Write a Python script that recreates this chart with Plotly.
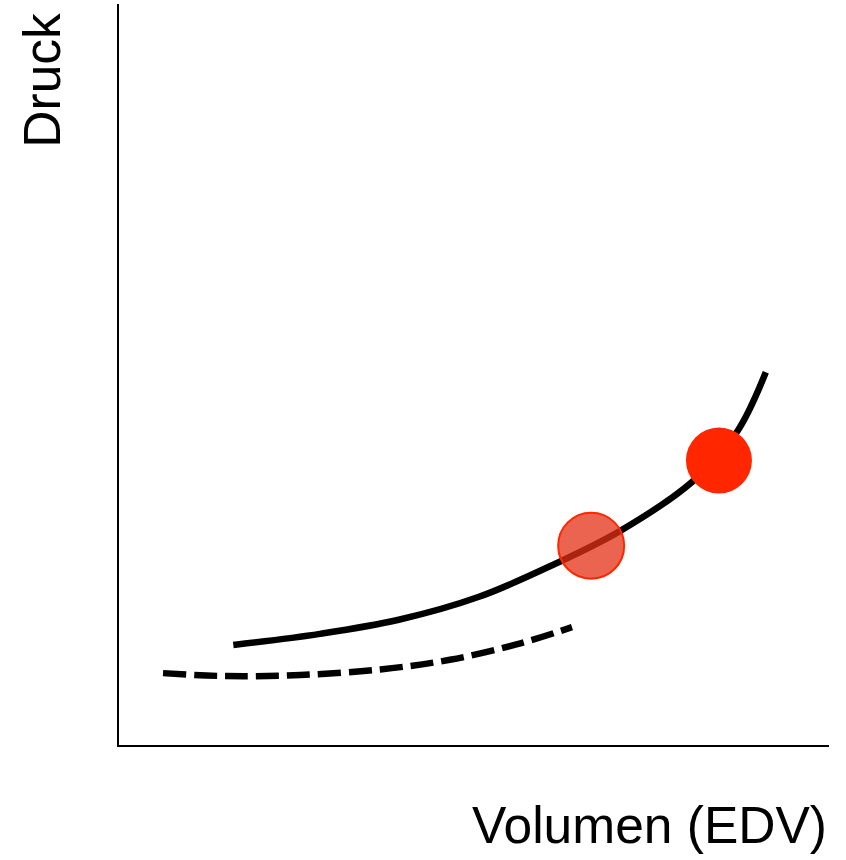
import plotly.graph_objects as go

# Data (arbitrary units: volume on x, pressure on y)
solid_volume = [16.1, 28.3, 39.4, 50.7, 61.1, 70.6, 80.7, 87.0, 91.1]
solid_pressure = [13.5, 15.0, 16.9, 20.0, 24.3, 28.9, 35.5, 42.2, 50.3]

dashed_volume = [6.2, 15.1, 25.5, 36.8, 46.6, 56.1, 63.8]
dashed_pressure = [9.7, 9.3, 9.45, 10.2, 11.5, 13.6, 15.9]

point_faded_volume = [66.5]
point_faded_pressure = [26.9]
point_solid_volume = [84.5]
point_solid_pressure = [38.4]

x_title = "Volumen (EDV)"
y_title = "Druck"

fig = go.Figure()

fig.add_trace(go.Scatter(
    x=dashed_volume, y=dashed_pressure, mode="lines",
    line=dict(color="black", width=6.5, dash="23px,8px", shape="spline", smoothing=1.0),
    hoverinfo="skip", showlegend=False))

fig.add_trace(go.Scatter(
    x=solid_volume, y=solid_pressure, mode="lines",
    line=dict(color="black", width=6.5, shape="spline", smoothing=1.0),
    hoverinfo="skip", showlegend=False))

fig.add_trace(go.Scatter(
    x=point_faded_volume, y=point_faded_pressure, mode="markers",
    marker=dict(size=66, color="rgba(228,48,20,0.75)",
                line=dict(color="rgb(255,38,0)", width=2)),
    showlegend=False))

fig.add_trace(go.Scatter(
    x=point_solid_volume, y=point_solid_pressure, mode="markers",
    marker=dict(size=66, color="rgb(255,38,0)", line=dict(width=0)),
    showlegend=False))

axis_common = dict(showgrid=False, zeroline=False, showticklabels=False, ticks="",
                   showline=True, linecolor="black", linewidth=2, range=[0, 100], fixedrange=True)

fig.update_layout(
    width=846, height=860,
    margin=dict(l=119, r=17, t=4, b=115),
    paper_bgcolor="white", plot_bgcolor="white",
    xaxis=axis_common, yaxis=axis_common,
    font=dict(family="Liberation Sans, Arial, sans-serif", color="black"),
    annotations=[
        dict(text=x_title, xref="paper", yref="paper", x=1.0, y=-0.108,
             xanchor="right", yanchor="middle", showarrow=False,
             font=dict(size=51.5, color="black")),
        dict(text=y_title, xref="paper", yref="paper", x=-0.108, y=0.897,
             xanchor="center", yanchor="middle", textangle=-90, showarrow=False,
             font=dict(size=51.5, color="black")),
    ],
)

fig.write_html("out.html", config={"displayModeBar": False},
               post_script="document.body.style.margin='0';")
